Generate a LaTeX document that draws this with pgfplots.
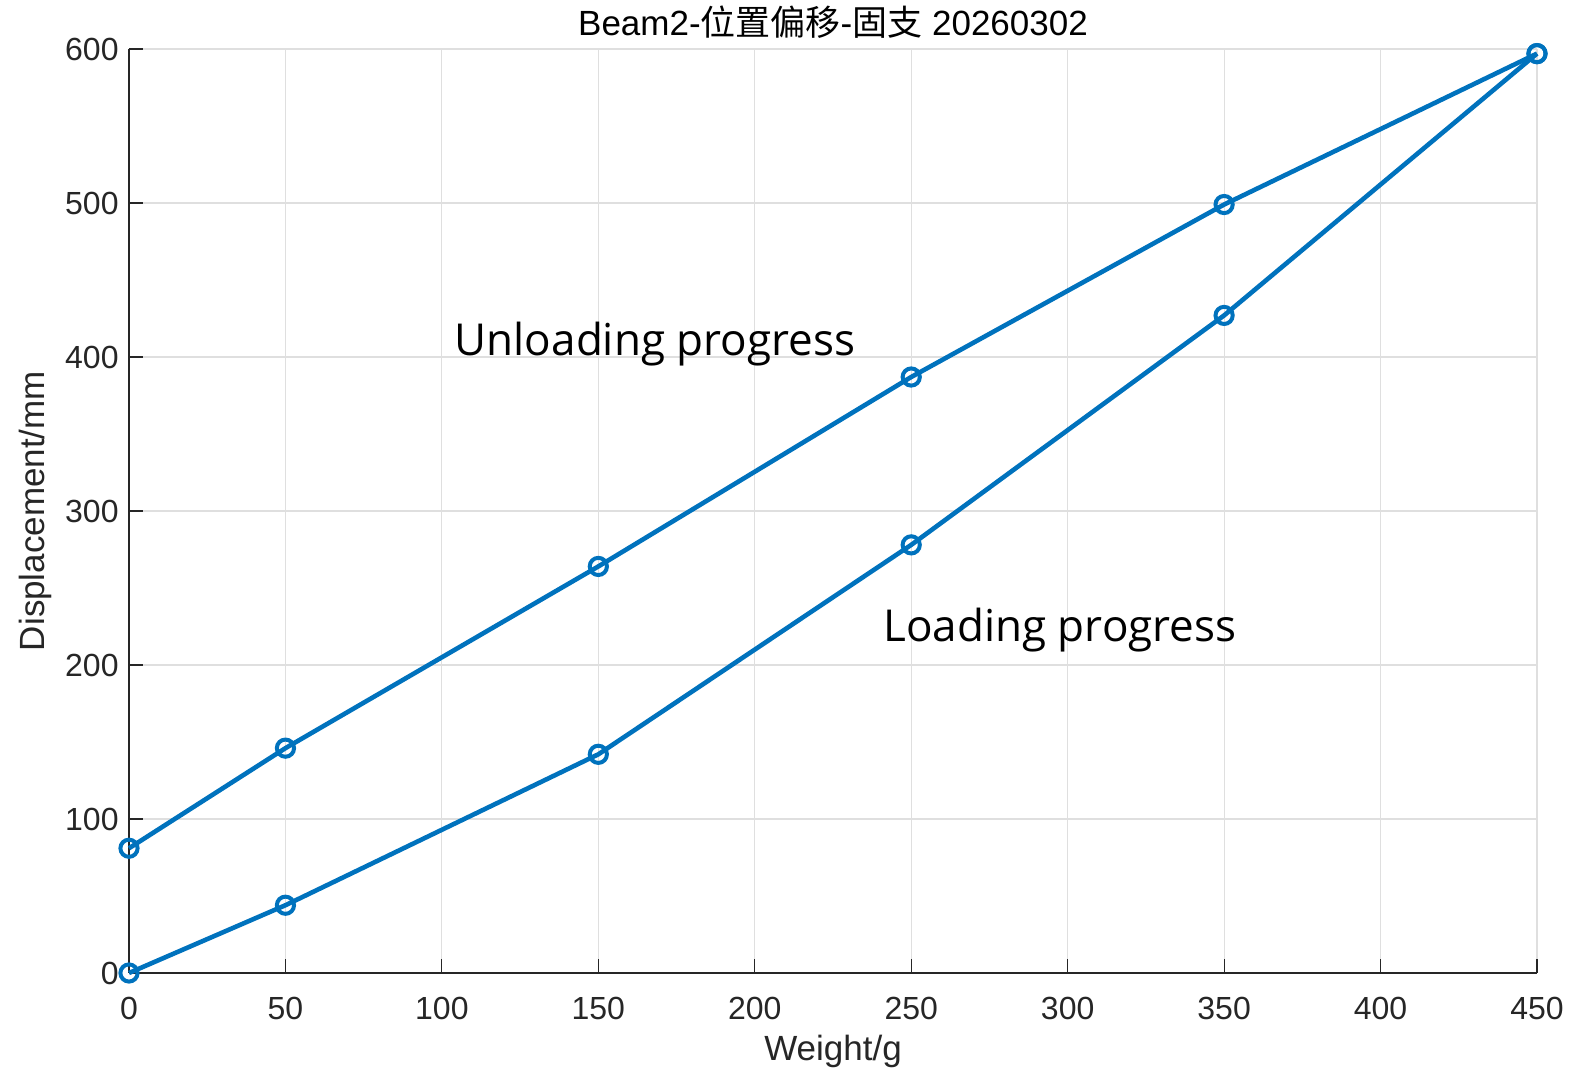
\documentclass[border=0pt]{standalone}
\usepackage{pgfplots}
\pgfplotsset{compat=1.18}
\usepackage{fontspec}
\setmainfont{Liberation Sans}
\newfontfamily\cjk{Noto Sans CJK SC}
\newfontfamily\annot{Open Sans}
\definecolor{mblue}{HTML}{0072BD}
\definecolor{axgray}{HTML}{262626}
\definecolor{gridgray}{HTML}{DFDFDF}

\pgfplotstableread{
w disp
0 0
50 44
150 142
250 278
350 427
450 597
}\loading
\pgfplotstableread{
w disp
0 81
50 146
150 264
250 387
350 499
450 597
}\unloading

\begin{document}
\begin{tikzpicture}
    \path[use as bounding box] (-64.5pt,-50.5pt) rectangle (728pt,486.5pt);
    \begin{axis}[
        scale only axis,
        width=704pt, height=462pt,
        xmin=0, xmax=450, ymin=0, ymax=600,
        xtick={0,50,...,450},
        ytick={0,100,...,600},
        axis lines=left,
        axis line style={-, axgray, line width=0.6pt},
        tick style={axgray, line width=0.6pt},
        tick align=inside,
        major tick length=7pt,
        grid=major,
        grid style={gridgray, line width=0.6pt},
        clip=false,
        font=\fontsize{16}{19}\selectfont,
        ticklabel style={text=axgray},
        xticklabel style={anchor=north, inner sep=0pt, yshift=-12pt},
        yticklabel style={anchor=east, inner sep=0pt, xshift=-5pt},
        /pgf/number format/assume math mode=true,
    ]
        \addplot[mblue, line width=2.3pt, mark=o, mark size=4.3pt, mark options={line width=2pt}] table[x=w, y=disp] {\loading};
        \addplot[mblue, line width=2.3pt, mark=o, mark size=4.3pt, mark options={line width=2pt}] table[x=w, y=disp] {\unloading};

        % annotations
        \node[anchor=base west, inner sep=0pt, font=\annot\fontsize{22}{26}\selectfont] at (axis cs:104,401) {Unloading progress};
        \node[anchor=base west, inner sep=0pt, font=\annot\fontsize{22}{26}\selectfont] at (axis cs:241,215) {Loading progress};

        % title and axis labels
        \node[anchor=base, inner sep=0pt, text=black, font=\fontsize{17.5}{21}\selectfont] at ([yshift=6.5pt]rel axis cs:0.5,1) {Beam2-{\cjk 位置偏移}-{\cjk 固支} 20260302};
        \node[anchor=base, inner sep=0pt, text=axgray, font=\fontsize{17.5}{21}\selectfont] at ([yshift=-44pt]rel axis cs:0.5,0) {Weight/g};
        \node[rotate=90, anchor=center, inner sep=0pt, text=axgray, font=\fontsize{17.5}{21}\selectfont] at ([xshift=-47pt]rel axis cs:0,0.5) {Displacement/mm};
    \end{axis}
\end{tikzpicture}
\end{document}
